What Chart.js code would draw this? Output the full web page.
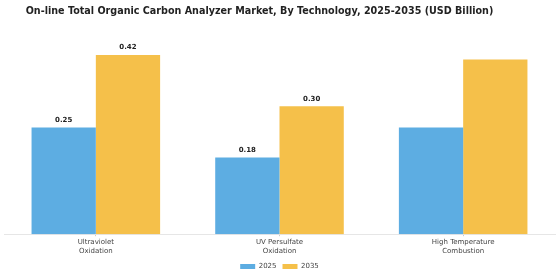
<!DOCTYPE html>
<html>
<head>
<meta charset="utf-8">
<script src="https://cdn.jsdelivr.net/npm/chart.js@4.4.1/dist/chart.umd.min.js"></script>
<style>
  html, body { margin: 0; padding: 0; background: #ffffff; }
  #wrap { width: 560px; height: 280px; position: relative; }
</style>
</head>
<body>
<div id="wrap"><canvas id="chart"></canvas></div>
<script>
// --- 데이터 ---
const chartTitle = 'On-line Total Organic Carbon Analyzer Market, By Technology, 2025-2035 (USD Billion)';
const categories = [['Ultraviolet', 'Oxidation'], ['UV Persulfate', 'Oxidation'], ['High Temperature', 'Combustion']];
const years = ['2025', '2035'];
const values2025 = [0.25, 0.18, 0.25];
const values2035 = [0.42, 0.30, 0.41];
// 값 라벨이 보이는 막대만 true
const showLabel2025 = [true, true, false];
const showLabel2035 = [true, true, false];

const COLOR_2025 = '#5DADE2';
const COLOR_2035 = '#F5C04A';
const FONT = '"DejaVu Sans", sans-serif';

// 제목 (조금 왼쪽으로 치우쳐 있음) + 막대 위 값 라벨
const valueLabels = {
    id: 'valueLabels',
    afterDatasetsDraw(chart) {
        const ctx = chart.ctx;
        const flags = [showLabel2025, showLabel2035];
        ctx.save();
        ctx.font = 'bold 7px ' + FONT;
        ctx.fillStyle = '#222';
        ctx.textAlign = 'center';
        ctx.textBaseline = 'bottom';
        chart.data.datasets.forEach((ds, i) => {
            const meta = chart.getDatasetMeta(i);
            meta.data.forEach((bar, j) => {
                if (!flags[i][j]) return;
                ctx.fillText(ds.data[j].toFixed(2), bar.x, bar.y - 4);
            });
        });

        ctx.font = 'bold 9.6px ' + FONT;
        ctx.textBaseline = 'middle';
        ctx.fillText(chartTitle, 259.5, 11);
        ctx.restore();
    }
};

new Chart(document.getElementById('chart'), {
    type: 'bar',
    data: {
        labels: categories,
        datasets: [{
            label: years[0],
            data: values2025,
            backgroundColor: COLOR_2025,
            categoryPercentage: 0.7,
            barPercentage: 1.0
        }, {
            label: years[1],
            data: values2035,
            backgroundColor: COLOR_2035,
            categoryPercentage: 0.7,
            barPercentage: 1.0
        }]
    },
    options: {
        responsive: true,
        maintainAspectRatio: false,
        animation: false,
        layout: { padding: { left: 4, right: 5, top: 21, bottom: 0 } },
        scales: {
            x: {
                grid: { display: true, drawOnChartArea: false, offset: false, tickLength: 2, color: '#cccccc' },
                border: { color: '#e6e6e6' },
                ticks: { font: { family: FONT, size: 7 }, color: '#444', padding: 2 }
            },
            y: {
                display: false,
                min: 0,
                max: 0.5
            }
        },
        plugins: {
            title: { display: false },
            legend: {
                position: 'bottom',
                labels: {
                    font: { family: FONT, size: 7 },
                    color: '#444',
                    boxWidth: 15,
                    boxHeight: 5,
                    padding: 6
                }
            },
            tooltip: { enabled: false }
        }
    },
    plugins: [valueLabels]
});
</script>
</body>
</html>
